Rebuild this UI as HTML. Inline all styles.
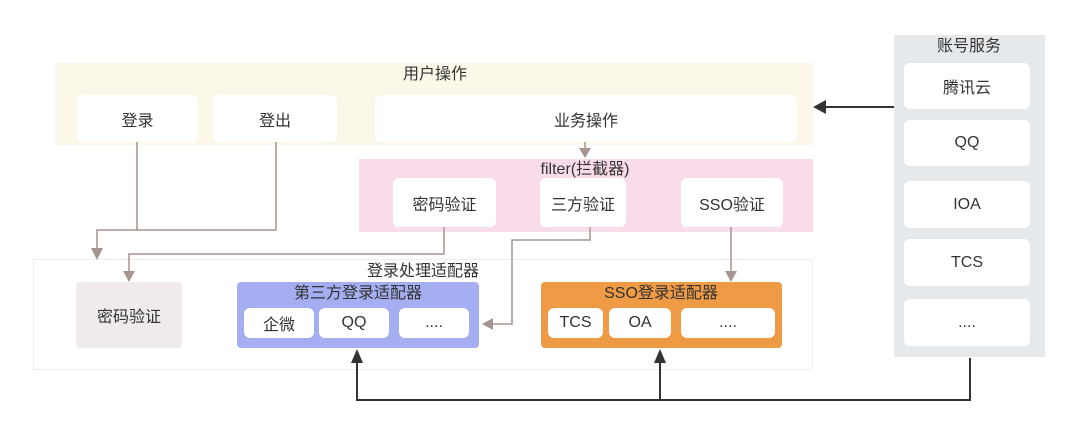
<!DOCTYPE html><html><head><meta charset="utf-8"><style>
body{margin:0;width:1080px;height:432px;background:#fff;position:relative;overflow:hidden;font-family:"Liberation Sans","Noto Sans CJK SC",sans-serif;color:#333}
.a{position:absolute;box-sizing:border-box}
.b{position:absolute;box-sizing:border-box;background:#fff;border-radius:6px;display:flex;align-items:center;justify-content:center;font-size:16px}
.t{position:absolute;font-size:16px;line-height:16px;transform:translateX(-50%);white-space:nowrap}
</style></head><body>
<div class="a" style="left:55px;top:63px;width:758px;height:82px;background:#fbf8ea"></div>
<div class="t" style="left:435px;top:67px">用户操作</div>
<div class="b" style="left:77px;top:95px;width:121px;height:47px">登录</div>
<div class="b" style="left:213px;top:95px;width:124px;height:47px">登出</div>
<div class="b" style="left:375px;top:95px;width:422px;height:47px">业务操作</div>

<div class="a" style="left:359px;top:159px;width:454px;height:73px;background:#f9dcea"></div>
<div class="t" style="left:585px;top:162px">filter(拦截器)</div>
<div class="b" style="left:393px;top:178px;width:103px;height:49px">密码验证</div>
<div class="b" style="left:540px;top:178px;width:86px;height:49px">三方验证</div>
<div class="b" style="left:681px;top:178px;width:102px;height:49px">SSO验证</div>

<div class="a" style="left:33px;top:259px;width:780px;height:111px;border:1px solid #eeeeee"></div>
<div class="t" style="left:423px;top:264px">登录处理适配器</div>
<div class="b" style="left:76px;top:282px;width:106px;height:66px;background:#eeebea;border-radius:4px">密码验证</div>
<div class="a" style="left:237px;top:282px;width:242px;height:66px;background:#a4aef0;border-radius:4px"></div>
<div class="t" style="left:358px;top:286px">第三方登录适配器</div>
<div class="b" style="left:244px;top:308px;width:70px;height:30px">企微</div>
<div class="b" style="left:319px;top:308px;width:70px;height:30px">QQ</div>
<div class="b" style="left:399px;top:308px;width:70px;height:30px">....</div>
<div class="a" style="left:541px;top:282px;width:241px;height:66px;background:#ef9a45;border-radius:4px"></div>
<div class="t" style="left:661px;top:286px">SSO登录适配器</div>
<div class="b" style="left:548px;top:308px;width:55px;height:30px">TCS</div>
<div class="b" style="left:609px;top:308px;width:62px;height:30px">OA</div>
<div class="b" style="left:681px;top:308px;width:94px;height:30px">....</div>

<div class="a" style="left:894px;top:35px;width:151px;height:322px;background:#e6e9ec"></div>
<div class="t" style="left:969px;top:39px">账号服务</div>
<div class="b" style="left:904px;top:63px;width:126px;height:46px">腾讯云</div>
<div class="b" style="left:904px;top:120px;width:126px;height:46px">QQ</div>
<div class="b" style="left:904px;top:181px;width:126px;height:47px">IOA</div>
<div class="b" style="left:904px;top:239px;width:126px;height:47px">TCS</div>
<div class="b" style="left:904px;top:299px;width:126px;height:47px">....</div>

<svg class="a" style="left:0;top:0" width="1080" height="432">
<g fill="none" stroke="#a59590" stroke-width="1.5">
<path d="M137 142V230M276 142V230H97V250"/>
<path d="M444 227V254H129V272"/>
<path d="M590 227V240H512V324H492"/>
<path d="M731 227V272"/>
<path d="M585 142V150"/>
</g>
<g fill="#a59590">
<path d="M91 248h12l-6 12z"/>
<path d="M123 271h12l-6 11z"/>
<path d="M482 324l11-6v12z"/>
<path d="M725 271h12l-6 11z"/>
<path d="M579 148h12l-6 10z"/>
</g>
<g fill="none" stroke="#333" stroke-width="2">
<path d="M894 107H824"/>
<path d="M970 358V400H357V362M660 400V362"/>
</g>
<g fill="#333">
<path d="M813 107l13-7v14z"/>
<path d="M357 349l-6 14h12z"/>
<path d="M660 349l-6 14h12z"/>
</g>
</svg>
</body></html>
